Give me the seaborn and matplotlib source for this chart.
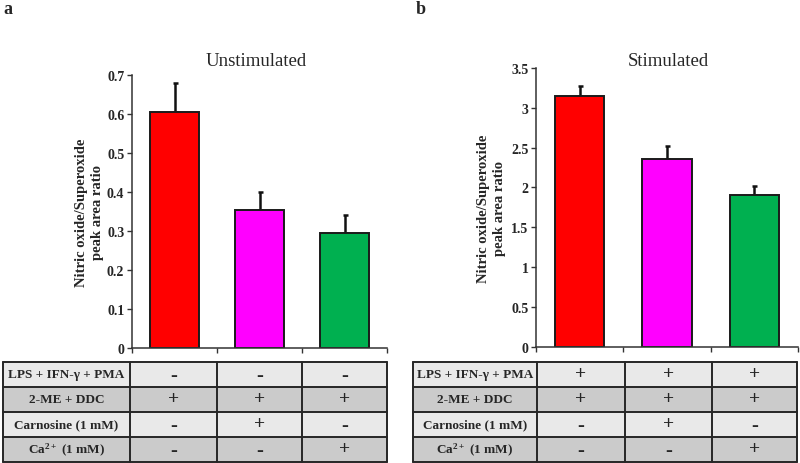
import matplotlib
matplotlib.use("Agg")
import matplotlib.pyplot as plt
import seaborn as sns
import numpy as np
import pandas as pd
from matplotlib.patches import Rectangle

sns.set_theme(style="white")
plt.rcParams['font.family'] = ['Liberation Serif', 'DejaVu Serif']
plt.rcParams['mathtext.fontset'] = 'custom'
plt.rcParams['mathtext.rm'] = 'Liberation Serif:bold'
plt.rcParams['mathtext.bf'] = 'Liberation Serif:bold'
plt.rcParams['mathtext.default'] = 'bf'

# ---- data ----
groups = ["Control", "Carnosine", "Ca2+"]
colors = ["#ff0000", "#ff00ff", "#00b050"]
unstim_mean = [0.605, 0.355, 0.294]
unstim_err = [0.074, 0.044, 0.047]
stim_mean = [3.145, 2.357, 1.905]
stim_err = [0.133, 0.160, 0.109]
unstim_yticks = [0, 0.1, 0.2, 0.3, 0.4, 0.5, 0.6, 0.7]
unstim_yticklabels = ["0", "0.1", "0.2", "0.3", "0.4", "0.5", "0.6", "0.7"]
stim_yticks = [0, 0.5, 1, 1.5, 2, 2.5, 3, 3.5]
stim_yticklabels = ["0", "0.5", "1", "1.5", "2", "2.5", "3", "3.5"]
row_labels = ["LPS + IFN-γ + PMA", "2-ME + DDC", "Carnosine (1 mM)", r"Ca$^{2+}$ (1 mM)"]
unstim_signs = [["-", "-", "-"], ["+", "+", "+"], ["-", "+", "-"], ["-", "-", "+"]]
stim_signs = [["+", "+", "+"], ["+", "+", "+"], ["-", "+", "-"], ["-", "-", "+"]]
ylabel = "Nitric oxide/Superoxide\npeak area ratio"

W, H = 800, 464
fig = plt.figure(figsize=(8, 4.64), dpi=100)


def px_axes(x0, y0, x1, y1):
    # pixel box (top-left origin) to figure axes
    return fig.add_axes([x0 / W, 1 - y1 / H, (x1 - x0) / W, (y1 - y0) / H])


def draw_panel(box, means, errs, ymax, yticks, yticklabels, title, title_xy,
               letter, letter_xy, ylab_x):
    ax = px_axes(*box)
    df = pd.DataFrame({"group": groups, "value": means})
    sns.barplot(data=df, x="group", y="value", hue="group", palette=colors,
                saturation=1, legend=False, width=0.565, edgecolor="#1a1a1a",
                linewidth=1.4, ax=ax, zorder=2)
    ax.errorbar(np.arange(len(means)), means, yerr=[np.zeros(len(errs)), errs],
                fmt="none", ecolor="#111111", elinewidth=1.8, capsize=1.8,
                capthick=1.8, zorder=1)
    ax.set_xlim(-0.5, 2.5)
    ax.set_ylim(0, ymax)
    ax.set_xticks([-0.5, 0.5, 1.5, 2.5])
    ax.set_xticklabels([])
    ax.set_yticks(yticks)
    ax.set_yticklabels(yticklabels, fontweight="bold", fontsize=10)
    ax.tick_params(axis="both", direction="out", length=3.5, width=1, color="#333333",
                   left=True, bottom=True, pad=2)
    ax.set_xlabel("")
    ax.set_ylabel("")
    for s in ["top", "right"]:
        ax.spines[s].set_visible(False)
    for s in ["left", "bottom"]:
        ax.spines[s].set_color("#333333")
        ax.spines[s].set_linewidth(1.1)
    fig.text(title_xy[0] / W, 1 - title_xy[1] / H, title, fontsize=13.5,
             ha="center", va="center")
    fig.text(ylab_x / W, 1 - ((box[1] + box[3]) / 2) / H, ylabel, rotation=90,
             ha="center", va="center", fontweight="bold", fontsize=10.5,
             linespacing=1.3)
    fig.text(letter_xy[0] / W, 1 - letter_xy[1] / H, letter, fontweight="bold",
             fontsize=13, ha="left", va="center")
    return ax


draw_panel((132, 76, 387, 349), unstim_mean, unstim_err, 0.7, unstim_yticks,
           unstim_yticklabels, "Unstimulated", (256, 62), "a", (3, 10), 89)
draw_panel((536, 69, 798, 347.7), stim_mean, stim_err, 3.5, stim_yticks,
           stim_yticklabels, "Stimulated", (668, 62), "b", (416, 10), 492)

# ---- tables ----
tax = fig.add_axes([0, 0, 1, 1])
tax.set_xlim(0, W)
tax.set_ylim(H, 0)
tax.axis("off")
row_colors = ["#e9e9e9", "#cbcbcb", "#e9e9e9", "#cbcbcb"]


def draw_table(col_edges, y0, row_h, signs):
    for r, lab in enumerate(row_labels):
        top = y0 + r * row_h
        tax.add_patch(Rectangle((col_edges[0], top), col_edges[-1] - col_edges[0], row_h,
                                facecolor=row_colors[r], edgecolor="none"))
        tax.text((col_edges[0] + col_edges[1]) / 2, top + row_h / 2 + 0.5, lab,
                 ha="center", va="center", fontweight="bold", fontsize=9.5)
        for c in range(3):
            cx = (col_edges[c + 1] + col_edges[c + 2]) / 2
            sgn = signs[r][c]
            tax.text(cx, top + row_h / 2 + (0 if sgn == "+" else 1), sgn,
                     ha="center", va="center", fontweight="bold",
                     fontsize=14 if sgn == "+" else 15)
    y1 = y0 + row_h * len(row_labels)
    for r in range(len(row_labels) + 1):
        yy = y0 + r * row_h
        tax.plot([col_edges[0], col_edges[-1]], [yy, yy], color="#262626", lw=1.4)
    for xx in col_edges:
        tax.plot([xx, xx], [y0, y1], color="#262626", lw=1.4)


draw_table([3, 130, 217, 302, 387], 362.5, 25, unstim_signs)
draw_table([413, 537, 625, 712, 797], 362.5, 25, stim_signs)

fig.savefig("out.png", dpi=100)
